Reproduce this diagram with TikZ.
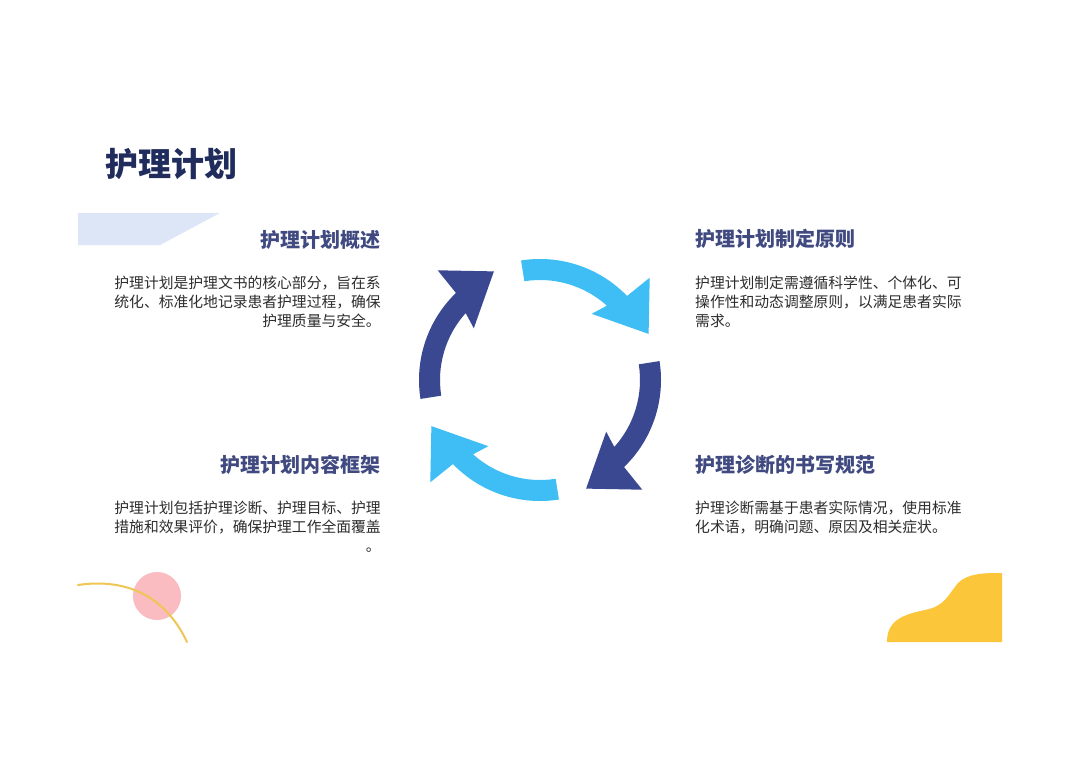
\documentclass[tikz,border=0pt]{standalone}
\usepackage{fontspec}
\setmainfont{Noto Sans CJK SC}
\definecolor{titlecol}{RGB}{32,44,92}
\definecolor{headcol}{RGB}{64,74,128}
\definecolor{bodycol}{RGB}{45,45,45}
\definecolor{darkarrow}{RGB}{58,72,145}
\definecolor{lightarrow}{RGB}{62,190,245}
\definecolor{bandcol}{RGB}{220,230,247}
\definecolor{pinkdot}{RGB}{250,188,192}
\definecolor{goldline}{RGB}{238,198,84}
\definecolor{goldblob}{RGB}{252,198,58}

\begin{document}
\begin{tikzpicture}[x=1pt, y=-1pt,
	hd/.style={font=\fontsize{20}{24}\selectfont\bfseries, text=headcol, inner sep=0pt},
	bd/.style={font=\fontsize{14.8}{19}\selectfont, text=bodycol, inner sep=0pt}]
	\useasboundingbox[fill=white] (0,0) rectangle (1080,764);
	% title and band
	\node[font=\fontsize{33}{38}\selectfont\bfseries, text=titlecol, inner sep=0pt, anchor=west] (title) at (105,164) {护理计划};
	\fill[bandcol] (78,213) -- (220,213) -- (160,245) -- (78,245) -- cycle;
	% four text blocks
	\node[hd, anchor=east] (h1) at (381,240) {护理计划概述};
	\node[bd, anchor=east, align=right] (t1) at (381,302) {护理计划是护理文书的核心部分，旨在系\\统化、标准化地记录患者护理过程，确保\\护理质量与安全。};
	\node[hd, anchor=west] (h2) at (695,239) {护理计划制定原则};
	\node[bd, anchor=west, align=left] (t2) at (695,302) {护理计划制定需遵循科学性、个体化、可\\操作性和动态调整原则，以满足患者实际\\需求。};
	\node[hd, anchor=east] (h3) at (381,465) {护理计划内容框架};
	\node[bd, anchor=east, align=right] (t3) at (381,527) {护理计划包括护理诊断、护理目标、护理\\措施和效果评价，确保护理工作全面覆盖\\。};
	\node[hd, anchor=west] (h4) at (695,465) {护理诊断的书写规范};
	\node[bd, anchor=west, align=left] (t4) at (695,518) {护理诊断需基于患者实际情况，使用标准\\化术语，明确问题、原因及相关症状。};
	% cycle of arrows
	\coordinate (c) at (540,380);
	\foreach \s/\col in {81/lightarrow, 171/darkarrow, 261/lightarrow, 351/darkarrow} {
		\fill[\col, shift={(c)}] (\s:121) arc[start angle=\s, end angle=\s+55, radius=121] -- (\s+56:150) -- (\s+76:118) -- (\s+47:84) -- (\s+51:100) arc[start angle=\s+51, end angle=\s, radius=100] -- cycle;
	}
	% corner decorations
	\fill[pinkdot] (157,596) circle[radius=24];
	\draw[goldline, line width=2pt, line cap=round] (78,585) .. controls (125,578) and (165,595) .. (187,642);
	\fill[goldblob] (887,642) .. controls (887,622) and (900,615) .. (925,610) .. controls (945,606) and (948,595) .. (958,583) .. controls (968,573) and (985,573) .. (1002,573) -- (1002,642) -- cycle;
\end{tikzpicture}
\end{document}
